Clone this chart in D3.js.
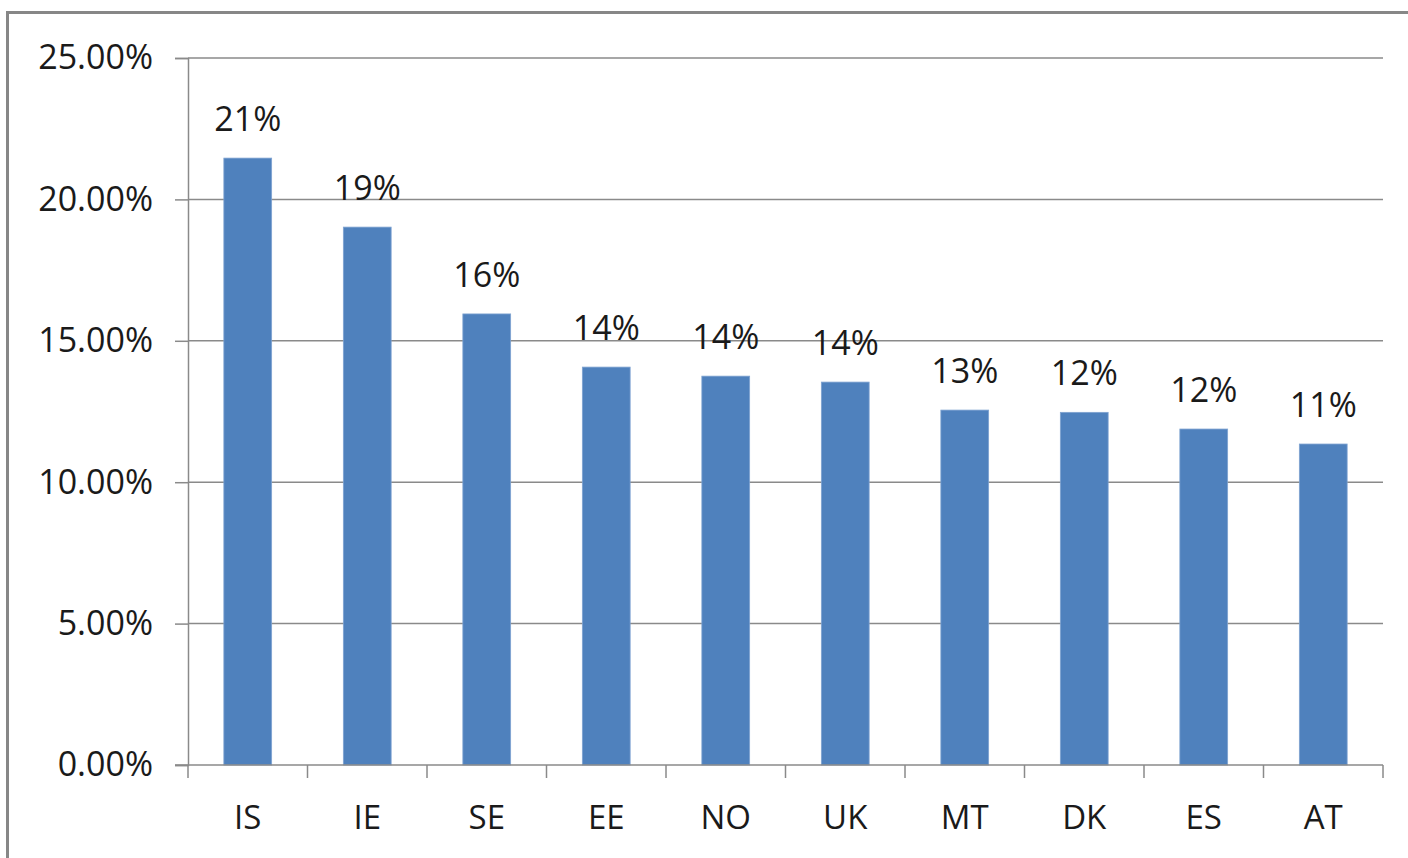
<!DOCTYPE html>
<html>
<head>
<meta charset="utf-8">
<script src="https://cdn.jsdelivr.net/npm/d3@7"></script>
<style>
  html, body { margin: 0; padding: 0; background: #fff; }
  svg { display: block; }
  text { font-family: "Open Sans", "Liberation Sans", sans-serif; fill: #1a1a1a; }
</style>
</head>
<body>
<svg id="chart" width="1408" height="858"></svg>
<script>
const categories = ["IS", "IE", "SE", "EE", "NO", "UK", "MT", "DK", "ES", "AT"];
const values = [0.2146, 0.1902, 0.1595, 0.1407, 0.1375, 0.1354, 0.1255, 0.1247, 0.1188, 0.1135];
const yTicks = [0, 0.05, 0.10, 0.15, 0.20, 0.25];

const svg = d3.select("#chart");
const W = 1408, H = 858;
const margin = { left: 188, right: 25, top: 58, bottom: 93 };

// outer chart border (right/bottom run off the canvas)
svg.append("rect")
  .attr("x", 7.5).attr("y", 12.5)
  .attr("width", W + 20).attr("height", H + 20)
  .attr("fill", "#fff")
  .attr("stroke", "#878787").attr("stroke-width", 3);

const x = d3.scaleBand()
  .domain(categories)
  .range([margin.left, W - margin.right])
  .paddingInner(0.6).paddingOuter(0.3);

const y = d3.scaleLinear()
  .domain([0, 0.25])
  .range([H - margin.bottom, margin.top]);

const gridColor = "#8a8a8a";

// gridlines
svg.append("g")
  .selectAll("line")
  .data(yTicks.filter(d => d > 0))
  .join("line")
  .attr("x1", margin.left).attr("x2", W - margin.right)
  .attr("y1", d => y(d)).attr("y2", d => y(d))
  .attr("stroke", gridColor).attr("stroke-width", 1.5);

// y axis
const yAxis = d3.axisLeft(y)
  .tickValues(yTicks)
  .tickFormat(d3.format(".2%"))
  .tickSize(13)
  .tickPadding(22);
const gy = svg.append("g")
  .attr("transform", `translate(${margin.left},0)`)
  .call(yAxis);
gy.select(".domain").attr("stroke", gridColor).attr("stroke-width", 1.5);
gy.selectAll(".tick line").attr("stroke", gridColor).attr("stroke-width", 1.5);
gy.selectAll(".tick text")
  .attr("font-size", 34)
  .attr("font-family", "'Open Sans', sans-serif")
  .attr("fill", "#1a1a1a");

// bars
svg.append("g")
  .selectAll("rect")
  .data(categories.map((c, i) => ({ c, v: values[i] })))
  .join("rect")
  .attr("x", d => x(d.c))
  .attr("width", x.bandwidth())
  .attr("y", d => y(d.v))
  .attr("height", d => y(0) - y(d.v))
  .attr("fill", "#4F81BD")
  .attr("stroke", "#7fa3d1").attr("stroke-width", 0.8);

// x axis (ticks at category boundaries)
const step = x.step();
const boundaries = d3.range(categories.length + 1).map(i => margin.left + i * step);
const gx = svg.append("g");
gx.append("line")
  .attr("x1", margin.left - 13).attr("x2", W - margin.right)
  .attr("y1", y(0)).attr("y2", y(0))
  .attr("stroke", gridColor).attr("stroke-width", 1.5);
gx.selectAll("line.tk")
  .data(boundaries)
  .join("line")
  .attr("class", "tk")
  .attr("x1", d => d).attr("x2", d => d)
  .attr("y1", y(0)).attr("y2", y(0) + 13)
  .attr("stroke", gridColor).attr("stroke-width", 1.5);
gx.selectAll("text")
  .data(categories)
  .join("text")
  .attr("x", d => x(d) + x.bandwidth() / 2)
  .attr("y", 829)
  .attr("text-anchor", "middle")
  .attr("font-size", 33)
  .text(d => d);

// data labels
svg.append("g")
  .selectAll("text")
  .data(categories.map((c, i) => ({ c, v: values[i] })))
  .join("text")
  .attr("x", d => x(d.c) + x.bandwidth() / 2)
  .attr("y", d => y(d.v) - 27)
  .attr("text-anchor", "middle")
  .attr("font-size", 34)
  .text(d => d3.format(".0%")(d.v));
</script>
</body>
</html>
